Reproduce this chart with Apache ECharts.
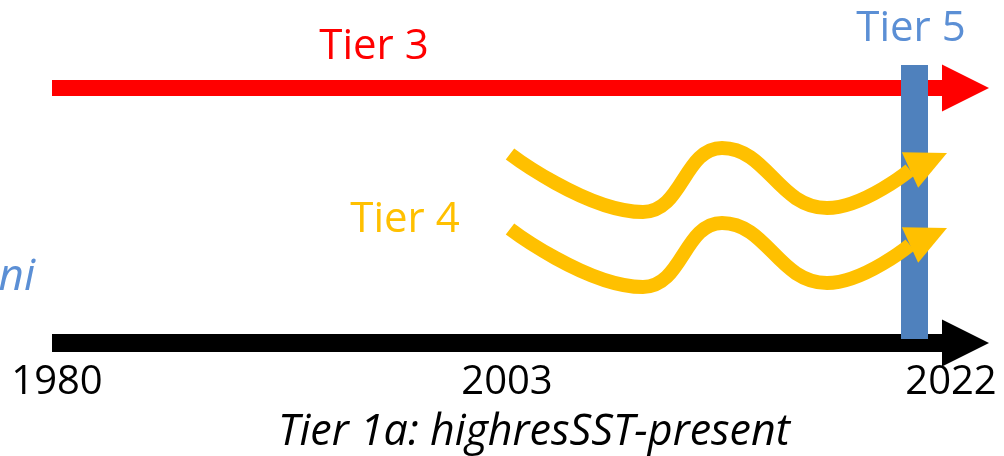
<!DOCTYPE html>
<html><head><meta charset="utf-8">
<script src="https://cdn.jsdelivr.net/npm/echarts@6/dist/echarts.min.js"></script>
<style>html,body{margin:0;padding:0;background:#fff;overflow:hidden}#c{width:1004px;height:456px}</style>
</head><body><div id="c"></div>
<script>
// Schematic plane: x 0..1004 (left→right), y 0..456 (top→bottom)
const tier3Arrow = [52, 88, 989, 88];
const tier1aArrow = [52, 343, 989, 343];
const tier5Bar = [914.5, 65, 914.5, 339];
const tier4Upper = [[510,154],[643,212],[722,148],[827,208],[910,170]];
const tier4Lower = [[510,229],[643,287],[722,223],[827,283],[910,245]];
const tier4Heads = [[910,170,947,153],[910,245,947,228]];
const yearLabels = ['1980','2003','2022'];
const yearX = [57, 507, 951];
const yearY = 383;
const tierLabels = ['Tier 3','Tier 4','Tier 5','ni','Tier 1a: highresSST-present'];
const tierLabelPos = [[374,47],[405,220],[911,29],[35,277],[534,433]];

const RED='#FF0000', BLACK='#000000', BAR='#4F81BD', TXTBLUE='#5B8FD5', YEL='#FFC000';
const FONT="'Open Sans', 'Noto Sans', sans-serif";
const labelStyles = [
  {fill:RED, font:"42px "+FONT, align:'center'},
  {fill:YEL, font:"42px "+FONT, align:'center'},
  {fill:TXTBLUE, font:"42px "+FONT, align:'center'},
  {fill:TXTBLUE, font:"italic 44px "+FONT, align:'right'},
  {fill:BLACK, font:"italic 43px "+FONT, align:'center'}
];

function straightArrow(color, shaft, headLen, headHalf){
  return function(params, api){
    const a = api.coord([api.value(0), api.value(1)]);
    const b = api.coord([api.value(2), api.value(3)]);
    const bx = b[0]-headLen, y=a[1];
    return {type:'polygon', shape:{points:[
      [a[0], y-shaft/2],[bx, y-shaft/2],[bx, y-headHalf],[b[0], y],[bx, y+headHalf],[bx, y+shaft/2],[a[0], y+shaft/2]
    ]}, style:{fill:color}};
  };
}

const texts = [];
yearLabels.forEach((t,i)=>texts.push({t, x:yearX[i], y:yearY, s:{fill:BLACK, font:"40px "+FONT, align:'center'}}));
tierLabels.forEach((t,i)=>texts.push({t, x:tierLabelPos[i][0], y:tierLabelPos[i][1], s:labelStyles[i]}));

const chart = echarts.init(document.getElementById('c'), null, {renderer:'canvas'});
chart.setOption({
  animation:false,
  backgroundColor:'#ffffff',
  grid:{left:0,right:0,top:0,bottom:0},
  xAxis:{type:'value',min:0,max:1004,show:false},
  yAxis:{type:'value',min:0,max:456,inverse:true,show:false},
  series:[
    {type:'custom', z:1, data:[tier3Arrow], renderItem:straightArrow(RED,16,47,23.5), clip:false},
    {type:'custom', z:1, data:[tier1aArrow], renderItem:straightArrow(BLACK,18,47,23.5), clip:false},
    {type:'custom', z:2, data:[tier5Bar], clip:false, renderItem:function(p,api){
      const a=api.coord([api.value(0),api.value(1)]), b=api.coord([api.value(2),api.value(3)]);
      return {type:'rect', shape:{x:a[0]-13.5, y:a[1], width:27, height:b[1]-a[1]}, style:{fill:BAR}};
    }},
    {type:'line', z:3, data:tier4Upper, smooth:0.45, showSymbol:false, lineStyle:{color:YEL,width:14,cap:'butt'}},
    {type:'line', z:3, data:tier4Lower, smooth:0.45, showSymbol:false, lineStyle:{color:YEL,width:14,cap:'butt'}},
    {type:'custom', z:4, data:tier4Heads, clip:false, renderItem:function(p,api){
      const b=api.coord([api.value(0),api.value(1)]), t=api.coord([api.value(2),api.value(3)]);
      const dx=t[0]-b[0], dy=t[1]-b[1], L=Math.hypot(dx,dy), nx=-dy/L, ny=dx/L, hw=19.5;
      return {type:'polygon', shape:{points:[[b[0]+nx*hw,b[1]+ny*hw],[t[0],t[1]],[b[0]-nx*hw,b[1]-ny*hw]]}, style:{fill:YEL}};
    }},
    {type:'custom', z:5, data:texts.map((d,i)=>[d.x,d.y,i]), clip:false, renderItem:function(p,api){
      const d=texts[api.value(2)], c=api.coord([api.value(0),api.value(1)]);
      return {type:'text', x:c[0], y:c[1], style:{text:d.t, fill:d.s.fill, font:d.s.font, align:d.s.align, verticalAlign:'middle'}};
    }}
  ]
});
</script></body></html>
